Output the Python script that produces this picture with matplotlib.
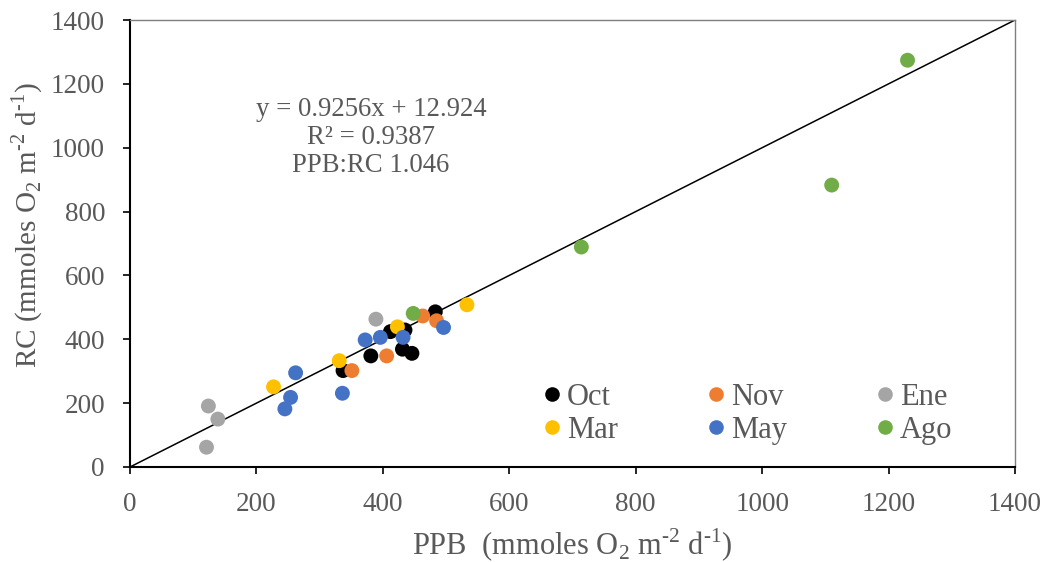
import matplotlib
matplotlib.use('Agg')
import matplotlib.pyplot as plt
from matplotlib.lines import Line2D

plt.rcParams['font.family'] = ['Liberation Serif', 'DejaVu Serif']
plt.rcParams['mathtext.fontset'] = 'custom'
plt.rcParams['mathtext.rm'] = 'Liberation Serif'

# PPB (x) and RC (y) per month
oct_x = [412, 435, 483, 381, 431, 446, 337]
oct_y = [424, 429, 486, 348, 369, 356, 302]
nov_x = [463, 485, 406, 351]
nov_y = [473, 458, 348, 302]
ene_x = [389, 124, 139, 121]
ene_y = [463, 191, 150, 62]
mar_x = [533, 423, 331, 227]
mar_y = [508, 439, 333, 251]
may_x = [496, 396, 372, 432, 336, 262, 254, 245]
may_y = [437, 406, 398, 406, 231, 295, 218, 182]
ago_x = [448, 714, 1110, 1230]
ago_y = [481, 689, 883, 1274]

line_x = [0, 1400]
line_y = [0, 1400]

gray_txt = '#595959'

fig = plt.figure(figsize=(10.47, 5.62), dpi=100)
ax = fig.add_axes([130/1047, 95/562, 885/1047, 447/562])

ax.plot(line_x, line_y, color='black', lw=1.1, zorder=1)

series = [
  ('Oct', oct_x, oct_y, '#000000'),
  ('Nov', nov_x, nov_y, '#ed7d31'),
  ('Ene', ene_x, ene_y, '#a5a5a5'),
  ('Mar', mar_x, mar_y, '#ffc000'),
  ('May', may_x, may_y, '#4472c4'),
  ('Ago', ago_x, ago_y, '#70ad47'),
]
handles = {}
for name, xs, ys, c in series:
  ax.scatter(xs, ys, s=115, color=c, edgecolors='none', zorder=3)
  handles[name] = Line2D([], [], linestyle='none', marker='o', markersize=10.5,
                         markerfacecolor=c, markeredgecolor='none')

ax.set_xlim(0, 1400)
ax.set_ylim(0, 1400)
ax.set_xticks(range(0, 1401, 200))
ax.set_yticks(range(0, 1401, 200))
ax.tick_params(direction='out', length=5, width=1.2, color='black',
               labelsize=19.5, labelcolor=gray_txt)
ax.tick_params(axis='x', pad=13)
ax.tick_params(axis='y', pad=13)
for side in ['left', 'bottom']:
  ax.spines[side].set_color('black')
  ax.spines[side].set_linewidth(1.5)
for side in ['top', 'right']:
  ax.spines[side].set_color('#7f7f7f')
  ax.spines[side].set_linewidth(1.0)

unit = r'(mmoles O$_\mathregular{2}$ m$^\text{-2}$ d$^\text{-1}$)'
ax.set_xlabel('PPB  ' + unit, fontsize=22, color=gray_txt, labelpad=7)
ax.set_ylabel('RC ' + unit, fontsize=21, color=gray_txt, labelpad=4)
ax.yaxis.label.set_y(0.541)

ax.text(381, 1033, 'y = 0.9256x + 12.924\nR² = 0.9387\nPPB:RC 1.046',
        ha='center', va='center', multialignment='center',
        fontsize=19.3, color=gray_txt, linespacing=1.15)

order = ['Oct', 'Mar', 'Nov', 'May', 'Ene', 'Ago']
leg = ax.legend([handles[k] for k in order], order, ncol=3, loc='upper left',
                bbox_to_anchor=(0.449, 0.222), frameon=False, fontsize=22,
                handlelength=0.6, handletextpad=0.2, columnspacing=2.9,
                labelspacing=0.13, borderpad=0)
for t in leg.get_texts():
  t.set_color(gray_txt)

fig.savefig('out.png', dpi=100)
